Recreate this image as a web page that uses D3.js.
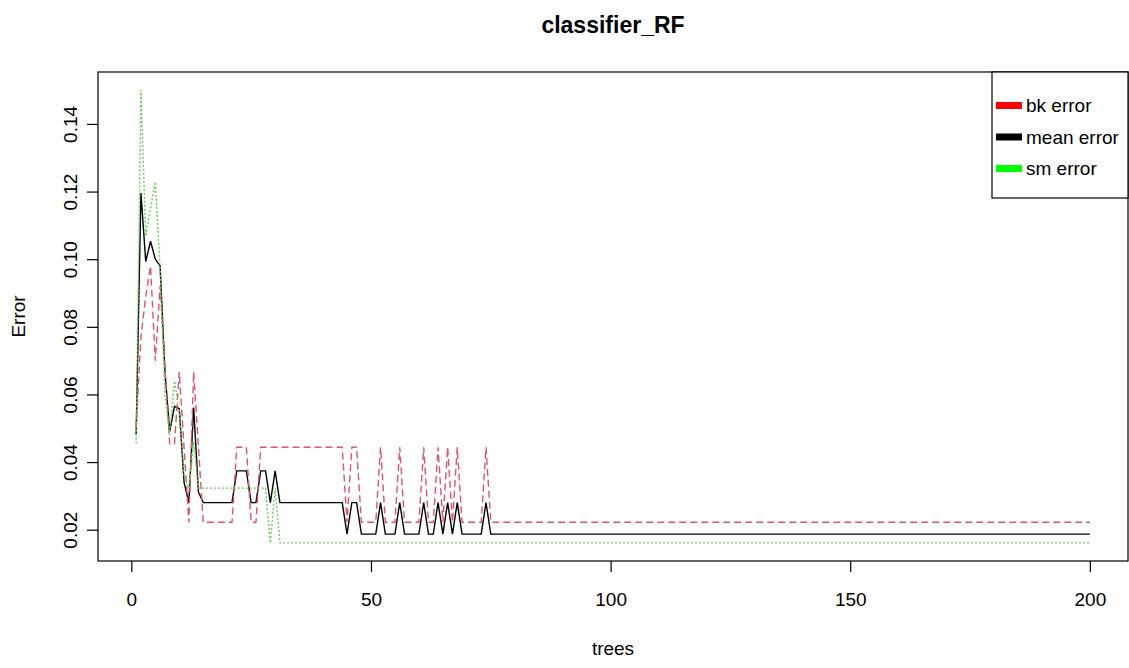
<!DOCTYPE html>
<html>
<head>
<meta charset="utf-8">
<script src="https://cdn.jsdelivr.net/npm/d3@7"></script>
<style>
  body { margin: 0; background: #fff; }
  text { font-family: "Liberation Sans", Arial, sans-serif; }
</style>
</head>
<body>
<div id="chart-container"></div>
<script>
// tree index 1..200
const trees = [
  1,2,3,4,5,6,7,8,9,10,11,12,13,14,15,16,17,18,19,20,
  21,22,23,24,25,26,27,28,29,30,31,32,33,34,35,36,37,38,39,40,
  41,42,43,44,45,46,47,48,49,50,51,52,53,54,55,56,57,58,59,60,
  61,62,63,64,65,66,67,68,69,70,71,72,73,74,75,76,77,78,79,80,
  81,82,83,84,85,86,87,88,89,90,91,92,93,94,95,96,97,98,99,100,
  101,102,103,104,105,106,107,108,109,110,111,112,113,114,115,116,117,118,119,120,
  121,122,123,124,125,126,127,128,129,130,131,132,133,134,135,136,137,138,139,140,
  141,142,143,144,145,146,147,148,149,150,151,152,153,154,155,156,157,158,159,160,
  161,162,163,164,165,166,167,168,169,170,171,172,173,174,175,176,177,178,179,180,
  181,182,183,184,185,186,187,188,189,190,191,192,193,194,195,196,197,198,199,200
];

// OOB (mean) error
const meanError = [
  0.0480,0.1196,0.0993,0.1053,0.1000,0.0980,0.0670,0.0490,0.0565,0.0558,
  0.0340,0.0280,0.0561,0.0311,0.0280,0.0280,0.0280,0.0280,0.0280,0.0280,
  0.0280,0.0374,0.0374,0.0374,0.0280,0.0280,0.0374,0.0374,0.0280,0.0374,
  0.0280,0.0280,0.0280,0.0280,0.0280,0.0280,0.0280,0.0280,0.0280,0.0280,
  0.0280,0.0280,0.0280,0.0280,0.0187,0.0280,0.0280,0.0187,0.0187,0.0187,
  0.0187,0.0280,0.0187,0.0187,0.0187,0.0280,0.0187,0.0187,0.0187,0.0187,
  0.0280,0.0187,0.0187,0.0280,0.0187,0.0280,0.0187,0.0280,0.0187,0.0187,
  0.0187,0.0187,0.0187,0.0280,0.0187,0.0187,0.0187,0.0187,0.0187,0.0187,
  0.0187,0.0187,0.0187,0.0187,0.0187,0.0187,0.0187,0.0187,0.0187,0.0187,
  0.0187,0.0187,0.0187,0.0187,0.0187,0.0187,0.0187,0.0187,0.0187,0.0187,
  0.0187,0.0187,0.0187,0.0187,0.0187,0.0187,0.0187,0.0187,0.0187,0.0187,
  0.0187,0.0187,0.0187,0.0187,0.0187,0.0187,0.0187,0.0187,0.0187,0.0187,
  0.0187,0.0187,0.0187,0.0187,0.0187,0.0187,0.0187,0.0187,0.0187,0.0187,
  0.0187,0.0187,0.0187,0.0187,0.0187,0.0187,0.0187,0.0187,0.0187,0.0187,
  0.0187,0.0187,0.0187,0.0187,0.0187,0.0187,0.0187,0.0187,0.0187,0.0187,
  0.0187,0.0187,0.0187,0.0187,0.0187,0.0187,0.0187,0.0187,0.0187,0.0187,
  0.0187,0.0187,0.0187,0.0187,0.0187,0.0187,0.0187,0.0187,0.0187,0.0187,
  0.0187,0.0187,0.0187,0.0187,0.0187,0.0187,0.0187,0.0187,0.0187,0.0187,
  0.0187,0.0187,0.0187,0.0187,0.0187,0.0187,0.0187,0.0187,0.0187,0.0187,
  0.0187,0.0187,0.0187,0.0187,0.0187,0.0187,0.0187,0.0187,0.0187,0.0187
];

// class "bk" error
const bkError = [
  0.0500,0.0770,0.0890,0.0980,0.0700,0.0920,0.0680,0.0454,0.0454,0.0667,
  0.0444,0.0222,0.0667,0.0444,0.0222,0.0222,0.0222,0.0222,0.0222,0.0222,
  0.0222,0.0444,0.0444,0.0444,0.0222,0.0222,0.0444,0.0444,0.0444,0.0444,
  0.0444,0.0444,0.0444,0.0444,0.0444,0.0444,0.0444,0.0444,0.0444,0.0444,
  0.0444,0.0444,0.0444,0.0444,0.0222,0.0444,0.0444,0.0222,0.0222,0.0222,
  0.0222,0.0444,0.0222,0.0222,0.0222,0.0444,0.0222,0.0222,0.0222,0.0222,
  0.0444,0.0222,0.0222,0.0444,0.0222,0.0444,0.0222,0.0444,0.0222,0.0222,
  0.0222,0.0222,0.0222,0.0444,0.0222,0.0222,0.0222,0.0222,0.0222,0.0222,
  0.0222,0.0222,0.0222,0.0222,0.0222,0.0222,0.0222,0.0222,0.0222,0.0222,
  0.0222,0.0222,0.0222,0.0222,0.0222,0.0222,0.0222,0.0222,0.0222,0.0222,
  0.0222,0.0222,0.0222,0.0222,0.0222,0.0222,0.0222,0.0222,0.0222,0.0222,
  0.0222,0.0222,0.0222,0.0222,0.0222,0.0222,0.0222,0.0222,0.0222,0.0222,
  0.0222,0.0222,0.0222,0.0222,0.0222,0.0222,0.0222,0.0222,0.0222,0.0222,
  0.0222,0.0222,0.0222,0.0222,0.0222,0.0222,0.0222,0.0222,0.0222,0.0222,
  0.0222,0.0222,0.0222,0.0222,0.0222,0.0222,0.0222,0.0222,0.0222,0.0222,
  0.0222,0.0222,0.0222,0.0222,0.0222,0.0222,0.0222,0.0222,0.0222,0.0222,
  0.0222,0.0222,0.0222,0.0222,0.0222,0.0222,0.0222,0.0222,0.0222,0.0222,
  0.0222,0.0222,0.0222,0.0222,0.0222,0.0222,0.0222,0.0222,0.0222,0.0222,
  0.0222,0.0222,0.0222,0.0222,0.0222,0.0222,0.0222,0.0222,0.0222,0.0222,
  0.0222,0.0222,0.0222,0.0222,0.0222,0.0222,0.0222,0.0222,0.0222,0.0222
];

// class "sm" error
const smError = [
  0.0455,0.1500,0.1068,0.1150,0.1229,0.0970,0.0600,0.0480,0.0640,0.0550,
  0.0360,0.0323,0.0460,0.0323,0.0323,0.0323,0.0323,0.0323,0.0323,0.0323,
  0.0323,0.0323,0.0323,0.0323,0.0323,0.0323,0.0323,0.0323,0.0161,0.0323,
  0.0161,0.0161,0.0161,0.0161,0.0161,0.0161,0.0161,0.0161,0.0161,0.0161,
  0.0161,0.0161,0.0161,0.0161,0.0161,0.0161,0.0161,0.0161,0.0161,0.0161,
  0.0161,0.0161,0.0161,0.0161,0.0161,0.0161,0.0161,0.0161,0.0161,0.0161,
  0.0161,0.0161,0.0161,0.0161,0.0161,0.0161,0.0161,0.0161,0.0161,0.0161,
  0.0161,0.0161,0.0161,0.0161,0.0161,0.0161,0.0161,0.0161,0.0161,0.0161,
  0.0161,0.0161,0.0161,0.0161,0.0161,0.0161,0.0161,0.0161,0.0161,0.0161,
  0.0161,0.0161,0.0161,0.0161,0.0161,0.0161,0.0161,0.0161,0.0161,0.0161,
  0.0161,0.0161,0.0161,0.0161,0.0161,0.0161,0.0161,0.0161,0.0161,0.0161,
  0.0161,0.0161,0.0161,0.0161,0.0161,0.0161,0.0161,0.0161,0.0161,0.0161,
  0.0161,0.0161,0.0161,0.0161,0.0161,0.0161,0.0161,0.0161,0.0161,0.0161,
  0.0161,0.0161,0.0161,0.0161,0.0161,0.0161,0.0161,0.0161,0.0161,0.0161,
  0.0161,0.0161,0.0161,0.0161,0.0161,0.0161,0.0161,0.0161,0.0161,0.0161,
  0.0161,0.0161,0.0161,0.0161,0.0161,0.0161,0.0161,0.0161,0.0161,0.0161,
  0.0161,0.0161,0.0161,0.0161,0.0161,0.0161,0.0161,0.0161,0.0161,0.0161,
  0.0161,0.0161,0.0161,0.0161,0.0161,0.0161,0.0161,0.0161,0.0161,0.0161,
  0.0161,0.0161,0.0161,0.0161,0.0161,0.0161,0.0161,0.0161,0.0161,0.0161,
  0.0161,0.0161,0.0161,0.0161,0.0161,0.0161,0.0161,0.0161,0.0161,0.0161
];

const xTicks = [0, 50, 100, 150, 200];
const yTicks = [0.02, 0.04, 0.06, 0.08, 0.10, 0.12, 0.14];
const yTickLabels = ["0.02", "0.04", "0.06", "0.08", "0.10", "0.12", "0.14"];
const legendLabels = ["bk error", "mean error", "sm error"];

const w = 1129;
const h = 668;
const plotL = 98, plotR = 1128, plotT = 72, plotB = 561;
const fs = 19;

const svg = d3.select("#chart-container")
  .append("svg")
  .attr("width", w)
  .attr("height", h);

// R-style 4% padding on both axes
const xExt = d3.extent(trees);
const xPad = (xExt[1] - xExt[0]) * 0.04;
const x = d3.scaleLinear()
  .domain([xExt[0] - xPad, xExt[1] + xPad])
  .range([plotL, plotR]);

const allVals = meanError.concat(bkError, smError);
const yExt = d3.extent(allVals);
const yPad = (yExt[1] - yExt[0]) * 0.04;
const y = d3.scaleLinear()
  .domain([yExt[0] - yPad, yExt[1] + yPad])
  .range([plotB, plotT]);

const series = [
  { values: meanError, color: "#000000", dash: null, sw: 1.4 },
  { values: bkError, color: "#DF536B", dash: "7,4", sw: 1.4 },
  { values: smError, color: "#61D04F", dash: "2,2", sw: 1.4 }
];

const line = d3.line()
  .x((d, i) => x(trees[i]))
  .y((d) => y(d));

svg.selectAll("path.series")
  .data(series)
  .join("path")
  .attr("class", "series")
  .attr("d", (d) => line(d.values))
  .attr("fill", "none")
  .attr("stroke", (d) => d.color)
  .attr("stroke-width", (d) => d.sw)
  .attr("stroke-dasharray", (d) => d.dash);

// plot box
svg.append("rect")
  .attr("x", plotL)
  .attr("y", plotT)
  .attr("width", plotR - plotL)
  .attr("height", plotB - plotT)
  .attr("fill", "none")
  .attr("stroke", "#000")
  .attr("stroke-width", 1.2);

// x axis
const xAxis = svg.append("g")
  .attr("transform", `translate(0,${plotB})`)
  .call(d3.axisBottom(x).tickValues(xTicks).tickSize(11).tickSizeOuter(0).tickPadding(21));
xAxis.select(".domain").remove();
xAxis.selectAll("line").attr("stroke", "#000").attr("stroke-width", 1.2);
xAxis.selectAll("text")
  .attr("font-size", fs)
  .attr("font-family", "Liberation Sans, Arial, sans-serif")
  .attr("fill", "#000");

// y axis with rotated labels
const yAxis = svg.append("g")
  .attr("transform", `translate(${plotL},0)`)
  .call(d3.axisLeft(y).tickValues(yTicks).tickSize(11).tickSizeOuter(0)
    .tickFormat((d, i) => yTickLabels[i]));
yAxis.select(".domain").remove();
yAxis.selectAll("line").attr("stroke", "#000").attr("stroke-width", 1.2);
yAxis.selectAll("text")
  .attr("x", null)
  .attr("dy", null)
  .attr("text-anchor", "middle")
  .attr("transform", "translate(-21.5,0) rotate(-90)")
  .attr("font-size", fs)
  .attr("font-family", "Liberation Sans, Arial, sans-serif")
  .attr("fill", "#000");

// titles
svg.append("text")
  .attr("x", (plotL + plotR) / 2)
  .attr("y", 33)
  .attr("text-anchor", "middle")
  .attr("font-size", 23)
  .attr("font-weight", "bold")
  .text("classifier_RF");

svg.append("text")
  .attr("x", (plotL + plotR) / 2)
  .attr("y", 655)
  .attr("text-anchor", "middle")
  .attr("font-size", fs)
  .text("trees");

svg.append("text")
  .attr("transform", `translate(25,${(plotT + plotB) / 2}) rotate(-90)`)
  .attr("text-anchor", "middle")
  .attr("font-size", fs)
  .text("Error");

// legend
const legendColors = ["#FF0000", "#000000", "#00FF00"];
const lg = svg.append("g");
lg.append("rect")
  .attr("x", 992)
  .attr("y", plotT)
  .attr("width", plotR - 992)
  .attr("height", 126)
  .attr("fill", "#fff")
  .attr("stroke", "#000")
  .attr("stroke-width", 1.2);

const rows = lg.selectAll("g.row")
  .data(legendLabels)
  .join("g")
  .attr("class", "row")
  .attr("transform", (d, i) => `translate(0,${105.5 + i * 31.5})`);

rows.append("line")
  .attr("x1", 996)
  .attr("x2", 1022)
  .attr("stroke", (d, i) => legendColors[i])
  .attr("stroke-width", 7);

rows.append("text")
  .attr("x", 1026)
  .attr("dy", "0.35em")
  .attr("font-size", fs)
  .text((d) => d);
</script>
</body>
</html>
